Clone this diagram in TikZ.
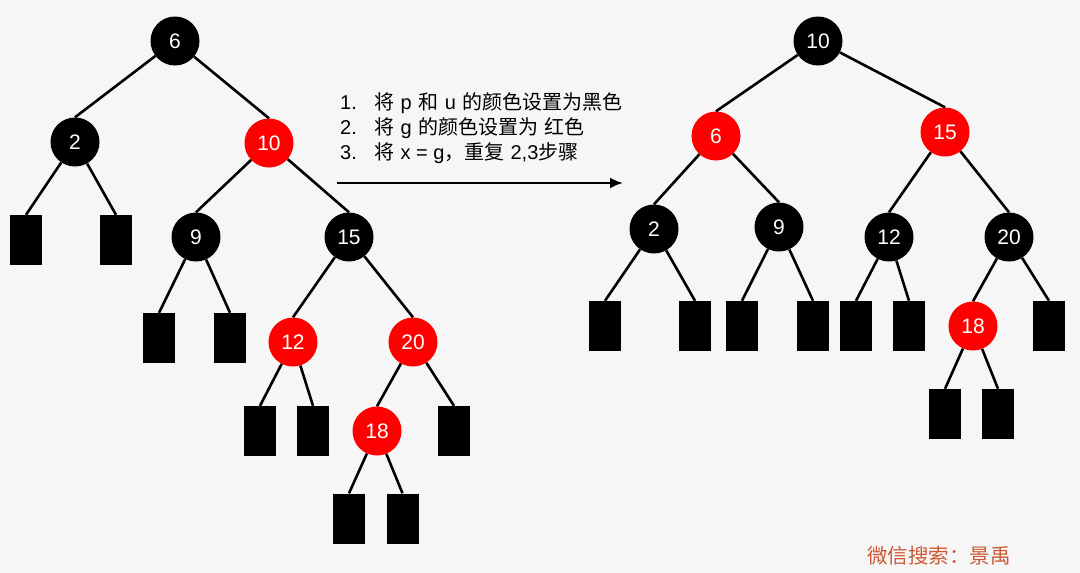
\documentclass[tikz,border=0pt]{standalone}
\usepackage{fontspec}
\setmainfont{Liberation Sans}
\newfontfamily\zhfont{Noto Sans CJK SC}
\newcommand\zh[1]{{\zhfont\fontsize{20}{24}\selectfont #1}}
\usetikzlibrary{arrows.meta}
\definecolor{bgcol}{RGB}{246,246,246}
\definecolor{rbred}{RGB}{255,0,0}
\definecolor{markcol}{RGB}{204,88,52}

\begin{document}
\begin{tikzpicture}[x=1pt,y=-1pt,
		blknode/.style={circle,fill=black,text=white,minimum size=49pt,inner sep=0pt,font=\fontsize{21}{24}\selectfont},
		rednode/.style={blknode,fill=rbred},
		leaf/.style={rectangle,fill=black,minimum width=32pt,minimum height=50pt,inner sep=0pt},
		edge/.style={line width=2.6pt},
		steptext/.style={anchor=base west,inner sep=0pt,font=\fontsize{20}{24}\selectfont}]
		\fill[bgcol] (0,0) rectangle (1080,573);
		\useasboundingbox (0,0) rectangle (1080,573);

		\node[blknode] (l6) at (175,41) {6};
		\node[blknode] (l2) at (75,142) {2};
		\node[rednode] (l10) at (269,143) {10};
		\node[blknode] (l9) at (196,237) {9};
		\node[blknode] (l15) at (349,237) {15};
		\node[rednode] (l12) at (293,342) {12};
		\node[rednode] (l20) at (413,342) {20};
		\node[rednode] (l18) at (377,431) {18};

		\node[leaf] (l2a) at (26,240) {};
		\node[leaf] (l2b) at (116,240) {};
		\node[leaf] (l9a) at (159,338) {};
		\node[leaf] (l9b) at (230,338) {};
		\node[leaf] (l12a) at (260,431) {};
		\node[leaf] (l12b) at (313,431) {};
		\node[leaf] (l20b) at (454,431) {};
		\node[leaf] (l18a) at (349,518.5) {};
		\node[leaf] (l18b) at (402.5,518.5) {};

		\draw[edge] (l6) -- (l2.north);
		\draw[edge] (l6) -- (l10.north);
		\draw[edge] (l2) -- (l2a.north);
		\draw[edge] (l2) -- (l2b.north);
		\draw[edge] (l10) -- (l9.north);
		\draw[edge] (l10) -- (l15.north);
		\draw[edge] (l9) -- (l9a.north);
		\draw[edge] (l9) -- (l9b.north);
		\draw[edge] (l15) -- (l12.north);
		\draw[edge] (l15) -- (l20.north);
		\draw[edge] (l12) -- (l12a.north);
		\draw[edge] (l12) -- (l12b.north);
		\draw[edge] (l20) -- (l18.north);
		\draw[edge] (l20) -- (l20b.north);
		\draw[edge] (l18) -- (l18a.north);
		\draw[edge] (l18) -- (l18b.north);

		\node[steptext] (step1) at (340,109.5) {\makebox[34pt][l]{1.}\zh{将}\hspace{6.5pt}p\hspace{6.5pt}\zh{和}\hspace{6.5pt}u\hspace{6.5pt}\zh{的颜色设置为黑色}};
		\node[steptext] (step2) at (340,134.5) {\makebox[34pt][l]{2.}\zh{将}\hspace{6.5pt}g\hspace{6.5pt}\zh{的颜色设置为}\hspace{6pt}\zh{红色}};
		\node[steptext] (step3) at (340,159) {\makebox[34pt][l]{3.}\zh{将}\hspace{6.5pt}x = g\zh{，重复}\hspace{6pt}2,3\zh{步骤}};
		\coordinate (arrS) at (337,183);
		\coordinate (arrE) at (623,183);
		\draw[line width=2.5pt,-{Latex[length=13pt,width=11pt]}] (arrS) -- (arrE);

		\node[blknode] (r10) at (818,41) {10};
		\node[rednode] (r6) at (716,136) {6};
		\node[rednode] (r15) at (945,132) {15};
		\node[blknode] (r2) at (654,229) {2};
		\node[blknode] (r9) at (779,227) {9};
		\node[blknode] (r12) at (889,237) {12};
		\node[blknode] (r20) at (1009,237) {20};
		\node[rednode] (r18) at (973,326) {18};

		\node[leaf] (r2a) at (605,326) {};
		\node[leaf] (r2b) at (695,326) {};
		\node[leaf] (r9a) at (742,326) {};
		\node[leaf] (r9b) at (813,326) {};
		\node[leaf] (r12a) at (856,326) {};
		\node[leaf] (r12b) at (909,326) {};
		\node[leaf] (r20b) at (1049,326) {};
		\node[leaf] (r18a) at (945,414) {};
		\node[leaf] (r18b) at (998,414) {};

		\draw[edge] (r10) -- (r6.north);
		\draw[edge] (r10) -- (r15.north);
		\draw[edge] (r6) -- (r2.north);
		\draw[edge] (r6) -- (r9.north);
		\draw[edge] (r15) -- (r12.north);
		\draw[edge] (r15) -- (r20.north);
		\draw[edge] (r2) -- (r2a.north);
		\draw[edge] (r2) -- (r2b.north);
		\draw[edge] (r9) -- (r9a.north);
		\draw[edge] (r9) -- (r9b.north);
		\draw[edge] (r12) -- (r12a.north);
		\draw[edge] (r12) -- (r12b.north);
		\draw[edge] (r20) -- (r18.north);
		\draw[edge] (r20) -- (r20b.north);
		\draw[edge] (r18) -- (r18a.north);
		\draw[edge] (r18) -- (r18b.north);

		\node[text=markcol,font=\zhfont\fontsize{20.5}{24}\selectfont] (mark) at (939,556) {微信搜索：景禹};
	\end{tikzpicture}
\end{document}
